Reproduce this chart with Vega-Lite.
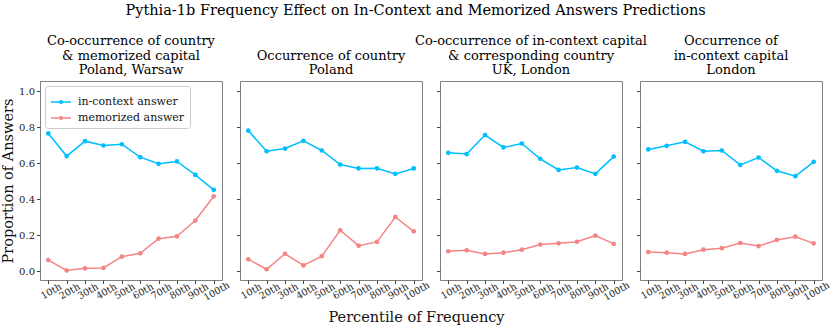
{
  "$schema": "https://vega.github.io/schema/vega-lite/v6.json",
  "background": "white",
  "padding": {"left": 0, "top": 3, "right": 0, "bottom": 4},
  "title": {"text": "Pythia-1b Frequency Effect on In-Context and Memorized Answers Predictions", "font": "DejaVu Serif", "fontSize": 14.5, "fontWeight": "normal", "anchor": "middle", "offset": 16, "color": "black"},
  "bounds": "flush",
  "spacing": 18,
  "resolve": {"legend": {"color": "independent"}},
  "config": {
    "font": "DejaVu Serif",
    "view": {"stroke": "#808080", "strokeWidth": 1},
    "axis": {"labelFont": "DejaVu Serif", "titleFont": "DejaVu Serif", "grid": false, "domain": false, "tickColor": "#444", "tickSize": 3.5, "labelColor": "#222", "titleColor": "#111", "titleFontWeight": "normal"},
    "legend": {"labelFont": "DejaVu Serif"}
  },
  "datasets": {
    "rows": [
      {"panel": 1, "pct": "10th", "series": "in-context answer", "value": 0.766},
      {"panel": 1, "pct": "20th", "series": "in-context answer", "value": 0.640},
      {"panel": 1, "pct": "30th", "series": "in-context answer", "value": 0.723},
      {"panel": 1, "pct": "40th", "series": "in-context answer", "value": 0.699},
      {"panel": 1, "pct": "50th", "series": "in-context answer", "value": 0.706},
      {"panel": 1, "pct": "60th", "series": "in-context answer", "value": 0.634},
      {"panel": 1, "pct": "70th", "series": "in-context answer", "value": 0.597},
      {"panel": 1, "pct": "80th", "series": "in-context answer", "value": 0.610},
      {"panel": 1, "pct": "90th", "series": "in-context answer", "value": 0.535},
      {"panel": 1, "pct": "100th", "series": "in-context answer", "value": 0.452},
      {"panel": 1, "pct": "10th", "series": "memorized answer", "value": 0.061},
      {"panel": 1, "pct": "20th", "series": "memorized answer", "value": 0.003},
      {"panel": 1, "pct": "30th", "series": "memorized answer", "value": 0.015},
      {"panel": 1, "pct": "40th", "series": "memorized answer", "value": 0.017},
      {"panel": 1, "pct": "50th", "series": "memorized answer", "value": 0.080},
      {"panel": 1, "pct": "60th", "series": "memorized answer", "value": 0.099},
      {"panel": 1, "pct": "70th", "series": "memorized answer", "value": 0.180},
      {"panel": 1, "pct": "80th", "series": "memorized answer", "value": 0.193},
      {"panel": 1, "pct": "90th", "series": "memorized answer", "value": 0.281},
      {"panel": 1, "pct": "100th", "series": "memorized answer", "value": 0.416},
      {"panel": 2, "pct": "10th", "series": "in-context answer", "value": 0.782},
      {"panel": 2, "pct": "20th", "series": "in-context answer", "value": 0.667},
      {"panel": 2, "pct": "30th", "series": "in-context answer", "value": 0.682},
      {"panel": 2, "pct": "40th", "series": "in-context answer", "value": 0.725},
      {"panel": 2, "pct": "50th", "series": "in-context answer", "value": 0.671},
      {"panel": 2, "pct": "60th", "series": "in-context answer", "value": 0.593},
      {"panel": 2, "pct": "70th", "series": "in-context answer", "value": 0.571},
      {"panel": 2, "pct": "80th", "series": "in-context answer", "value": 0.572},
      {"panel": 2, "pct": "90th", "series": "in-context answer", "value": 0.541},
      {"panel": 2, "pct": "100th", "series": "in-context answer", "value": 0.571},
      {"panel": 2, "pct": "10th", "series": "memorized answer", "value": 0.065},
      {"panel": 2, "pct": "20th", "series": "memorized answer", "value": 0.010},
      {"panel": 2, "pct": "30th", "series": "memorized answer", "value": 0.096},
      {"panel": 2, "pct": "40th", "series": "memorized answer", "value": 0.031},
      {"panel": 2, "pct": "50th", "series": "memorized answer", "value": 0.083},
      {"panel": 2, "pct": "60th", "series": "memorized answer", "value": 0.227},
      {"panel": 2, "pct": "70th", "series": "memorized answer", "value": 0.141},
      {"panel": 2, "pct": "80th", "series": "memorized answer", "value": 0.162},
      {"panel": 2, "pct": "90th", "series": "memorized answer", "value": 0.301},
      {"panel": 2, "pct": "100th", "series": "memorized answer", "value": 0.221},
      {"panel": 3, "pct": "10th", "series": "in-context answer", "value": 0.658},
      {"panel": 3, "pct": "20th", "series": "in-context answer", "value": 0.651},
      {"panel": 3, "pct": "30th", "series": "in-context answer", "value": 0.757},
      {"panel": 3, "pct": "40th", "series": "in-context answer", "value": 0.688},
      {"panel": 3, "pct": "50th", "series": "in-context answer", "value": 0.710},
      {"panel": 3, "pct": "60th", "series": "in-context answer", "value": 0.625},
      {"panel": 3, "pct": "70th", "series": "in-context answer", "value": 0.563},
      {"panel": 3, "pct": "80th", "series": "in-context answer", "value": 0.576},
      {"panel": 3, "pct": "90th", "series": "in-context answer", "value": 0.541},
      {"panel": 3, "pct": "100th", "series": "in-context answer", "value": 0.637},
      {"panel": 3, "pct": "10th", "series": "memorized answer", "value": 0.110},
      {"panel": 3, "pct": "20th", "series": "memorized answer", "value": 0.115},
      {"panel": 3, "pct": "30th", "series": "memorized answer", "value": 0.095},
      {"panel": 3, "pct": "40th", "series": "memorized answer", "value": 0.102},
      {"panel": 3, "pct": "50th", "series": "memorized answer", "value": 0.119},
      {"panel": 3, "pct": "60th", "series": "memorized answer", "value": 0.147},
      {"panel": 3, "pct": "70th", "series": "memorized answer", "value": 0.154},
      {"panel": 3, "pct": "80th", "series": "memorized answer", "value": 0.163},
      {"panel": 3, "pct": "90th", "series": "memorized answer", "value": 0.197},
      {"panel": 3, "pct": "100th", "series": "memorized answer", "value": 0.151},
      {"panel": 4, "pct": "10th", "series": "in-context answer", "value": 0.677},
      {"panel": 4, "pct": "20th", "series": "in-context answer", "value": 0.697},
      {"panel": 4, "pct": "30th", "series": "in-context answer", "value": 0.719},
      {"panel": 4, "pct": "40th", "series": "in-context answer", "value": 0.667},
      {"panel": 4, "pct": "50th", "series": "in-context answer", "value": 0.671},
      {"panel": 4, "pct": "60th", "series": "in-context answer", "value": 0.591},
      {"panel": 4, "pct": "70th", "series": "in-context answer", "value": 0.632},
      {"panel": 4, "pct": "80th", "series": "in-context answer", "value": 0.558},
      {"panel": 4, "pct": "90th", "series": "in-context answer", "value": 0.528},
      {"panel": 4, "pct": "100th", "series": "in-context answer", "value": 0.608},
      {"panel": 4, "pct": "10th", "series": "memorized answer", "value": 0.106},
      {"panel": 4, "pct": "20th", "series": "memorized answer", "value": 0.102},
      {"panel": 4, "pct": "30th", "series": "memorized answer", "value": 0.095},
      {"panel": 4, "pct": "40th", "series": "memorized answer", "value": 0.119},
      {"panel": 4, "pct": "50th", "series": "memorized answer", "value": 0.127},
      {"panel": 4, "pct": "60th", "series": "memorized answer", "value": 0.156},
      {"panel": 4, "pct": "70th", "series": "memorized answer", "value": 0.139},
      {"panel": 4, "pct": "80th", "series": "memorized answer", "value": 0.173},
      {"panel": 4, "pct": "90th", "series": "memorized answer", "value": 0.191},
      {"panel": 4, "pct": "100th", "series": "memorized answer", "value": 0.154}
    ]
  },
  "hconcat": [
    {
      "width": 182, "height": 199,
      "title": {"text": ["Co-occurrence of country", "& memorized capital", "Poland, Warsaw"], "fontSize": 13, "fontWeight": "normal", "lineHeight": 14.5, "offset": 4, "anchor": "middle", "limit": 400, "color": "black"},
      "data": {"name": "rows"},
      "transform": [{"filter": "datum.panel == 1"}],
      "encoding": {
        "x": {"field": "pct", "type": "ordinal", "sort": ["10th","20th","30th","40th","50th","60th","70th","80th","90th","100th"], "scale": {"type": "point", "padding": 0.45}, "axis": {"title": null, "labelAngle": -30, "labelAlign": "center", "labelBaseline": "top", "labelFontSize": 9.5, "labelPadding": 3}},
        "y": {"field": "value", "type": "quantitative", "scale": {"domain": [-0.05, 1.058], "nice": false, "zero": false}, "axis": {"title": "Proportion of Answers", "titleFontSize": 14.5, "titlePadding": 3, "values": [0, 0.2, 0.4, 0.6, 0.8, 1.0], "format": ".1f", "labelFontSize": 10, "labelPadding": 2}},
        "color": {"field": "series", "type": "nominal", "scale": {"domain": ["in-context answer", "memorized answer"], "range": ["#00BFFF", "#F58585"]}, "legend": {"title": null, "orient": "top-left", "offset": 5, "padding": 5, "strokeColor": "#cccccc", "fillColor": "white", "cornerRadius": 3, "labelFontSize": 11, "labelColor": "#111", "symbolType": "M-1,0L1,0M-0.13,0a0.13,0.13 0 1,0 0.26,0a0.13,0.13 0 1,0 -0.26,0", "symbolSize": 400, "symbolStrokeWidth": 1.5, "labelOffset": 6, "rowPadding": 0}}
      },
      "layer": [
        {"mark": {"type": "line", "strokeWidth": 1.5}},
        {"mark": {"type": "circle", "size": 22, "opacity": 1}}
      ]
    },
    {
      "width": 182, "height": 199,
      "title": {"text": ["Occurrence of country", "Poland"], "fontSize": 13, "fontWeight": "normal", "lineHeight": 14.5, "offset": 4, "anchor": "middle", "limit": 400, "color": "black"},
      "data": {"name": "rows"},
      "transform": [{"filter": "datum.panel == 2"}],
      "encoding": {
        "x": {"field": "pct", "type": "ordinal", "sort": ["10th","20th","30th","40th","50th","60th","70th","80th","90th","100th"], "scale": {"type": "point", "padding": 0.45}, "axis": {"title": "Percentile of Frequency", "titleFontSize": 14.5, "titleX": 176, "titleY": 30, "titleBaseline": "top", "titleAlign": "center", "labelAngle": -30, "labelAlign": "center", "labelBaseline": "top", "labelFontSize": 9.5, "labelPadding": 3}},
        "y": {"field": "value", "type": "quantitative", "scale": {"domain": [-0.05, 1.058], "nice": false, "zero": false}, "axis": {"title": null, "labels": false, "values": [0, 0.2, 0.4, 0.6, 0.8, 1.0]}},
        "color": {"field": "series", "type": "nominal", "scale": {"domain": ["in-context answer", "memorized answer"], "range": ["#00BFFF", "#F58585"]}, "legend": null}
      },
      "layer": [
        {"mark": {"type": "line", "strokeWidth": 1.5}},
        {"mark": {"type": "circle", "size": 22, "opacity": 1}}
      ]
    },
    {
      "width": 182, "height": 199,
      "title": {"text": ["Co-occurrence of in-context capital", "& corresponding country", "UK, London"], "fontSize": 13, "fontWeight": "normal", "lineHeight": 14.5, "offset": 4, "anchor": "middle", "limit": 400, "color": "black"},
      "data": {"name": "rows"},
      "transform": [{"filter": "datum.panel == 3"}],
      "encoding": {
        "x": {"field": "pct", "type": "ordinal", "sort": ["10th","20th","30th","40th","50th","60th","70th","80th","90th","100th"], "scale": {"type": "point", "padding": 0.45}, "axis": {"title": null, "labelAngle": -30, "labelAlign": "center", "labelBaseline": "top", "labelFontSize": 9.5, "labelPadding": 3}},
        "y": {"field": "value", "type": "quantitative", "scale": {"domain": [-0.05, 1.058], "nice": false, "zero": false}, "axis": {"title": null, "labels": false, "values": [0, 0.2, 0.4, 0.6, 0.8, 1.0]}},
        "color": {"field": "series", "type": "nominal", "scale": {"domain": ["in-context answer", "memorized answer"], "range": ["#00BFFF", "#F58585"]}, "legend": null}
      },
      "layer": [
        {"mark": {"type": "line", "strokeWidth": 1.5}},
        {"mark": {"type": "circle", "size": 22, "opacity": 1}}
      ]
    },
    {
      "width": 182, "height": 199,
      "title": {"text": ["Occurrence of", "in-context capital", "London"], "fontSize": 13, "fontWeight": "normal", "lineHeight": 14.5, "offset": 4, "anchor": "middle", "limit": 400, "color": "black"},
      "data": {"name": "rows"},
      "transform": [{"filter": "datum.panel == 4"}],
      "encoding": {
        "x": {"field": "pct", "type": "ordinal", "sort": ["10th","20th","30th","40th","50th","60th","70th","80th","90th","100th"], "scale": {"type": "point", "padding": 0.45}, "axis": {"title": null, "labelAngle": -30, "labelAlign": "center", "labelBaseline": "top", "labelFontSize": 9.5, "labelPadding": 3}},
        "y": {"field": "value", "type": "quantitative", "scale": {"domain": [-0.05, 1.058], "nice": false, "zero": false}, "axis": {"title": null, "labels": false, "values": [0, 0.2, 0.4, 0.6, 0.8, 1.0]}},
        "color": {"field": "series", "type": "nominal", "scale": {"domain": ["in-context answer", "memorized answer"], "range": ["#00BFFF", "#F58585"]}, "legend": null}
      },
      "layer": [
        {"mark": {"type": "line", "strokeWidth": 1.5}},
        {"mark": {"type": "circle", "size": 22, "opacity": 1}}
      ]
    }
  ]
}
